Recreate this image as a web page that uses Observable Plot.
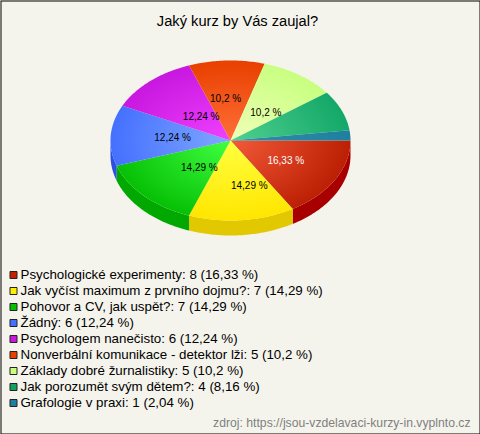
<!DOCTYPE html>
<html>
<head>
<meta charset="utf-8">
<script src="https://cdn.jsdelivr.net/npm/d3@7"></script>
<script src="https://cdn.jsdelivr.net/npm/@observablehq/plot@0.6"></script>
<style>html,body{margin:0;padding:0;background:#f5f4ec}svg{display:block}</style>
</head>
<body>
<div id="chart"></div>
<script>
const chartTitle = "Jaký kurz by Vás zaujal?";
const source = "zdroj: https://jsou-vzdelavaci-kurzy-in.vyplnto.cz";
const courses = ["Psychologické experimenty","Jak vyčíst maximum z prvního dojmu?","Pohovor a CV, jak uspět?","Žádný","Psychologem nanečisto","Nonverbální komunikace - detektor lži","Základy dobré žurnalistiky","Jak porozumět svým dětem?","Grafologie v praxi"];
const counts = [8,7,7,6,6,5,5,4,1];
const percents = ["16,33","14,29","14,29","12,24","12,24","10,2","10,2","8,16","2,04"];
const edgeColors = ["#bc2004","#ffe600","#06c006","#4470ff","#c818e0","#e84000","#c8ff80","#14a868","#1f7f9f"];
const centerColors = ["#f25a38","#ffff40","#40ff40","#80a8ff","#f040ff","#ff7038","#f0ffb8","#50d090","#3090a8"];
const rimColors = ["#a80000","#e2c800","#00a800","#2c50e0"];
const swatchColors = ["#c42000","#ffee00","#06c006","#4470ff","#c818d8","#e84000","#c8ff80","#14a060","#1f7f9f"];
const labelNudgeX = [3,13,12,2,11,-3,1,0,0];
const labelNudgeY = [1,5,-1,0,6,-2,5,0,0];

const W = 480, H = 434, cx = 230, cy = 140, rx = 120, ry = 80, depth = 15;
const total = d3.sum(counts);
const cum = d3.cumsum(counts);
const ang = v => v / total * 2 * Math.PI;
const px = a => cx + rx * Math.cos(a);
const py = a => cy + ry * Math.sin(a);

function arcPts(a0, a1) {
  const n = Math.max(2, Math.ceil((a1 - a0) / 0.015));
  return d3.range(n + 1).map(i => a0 + (a1 - a0) * i / n);
}
const slices = counts.map((c, i) => {
  const a0 = ang(cum[i] - c), a1 = ang(cum[i]);
  return [{x: cx, y: cy}, ...arcPts(a0, a1).map(a => ({x: px(a), y: py(a)}))];
});
const rims = rimColors.map((col, i) => {
  const a0 = ang(cum[i] - counts[i]), a1 = Math.min(ang(cum[i]), Math.PI);
  const top = arcPts(a0, a1).map(a => ({x: px(a), y: py(a)}));
  const bot = top.map(p => ({x: p.x, y: p.y + depth})).reverse();
  return [...top, ...bot];
});
const labels = counts.map((c, i) => {
  const m = ang(cum[i] - c / 2);
  return {t: percents[i] + " %", x: cx + .5 * rx * Math.cos(m) + labelNudgeX[i], y: cy + .5 * ry * Math.sin(m) + labelNudgeY[i], i};
}).filter(d => d.i < 7);
const legendRows = courses.map((n, i) => ({
  t: `${n}: ${counts[i]} (${percents[i]} %)`, i, y: 274 + i * 16
}));

function gradientDefs() {
  const ns = "http://www.w3.org/2000/svg";
  const defs = document.createElementNS(ns, "defs");
  edgeColors.forEach((c, i) => {
    const g = document.createElementNS(ns, "radialGradient");
    g.setAttribute("id", "g" + i);
    g.setAttribute("gradientUnits", "userSpaceOnUse");
    g.setAttribute("cx", cx); g.setAttribute("cy", cy); g.setAttribute("r", rx);
    g.setAttribute("gradientTransform", `translate(${cx} ${cy}) scale(1 ${ry / rx}) translate(${-cx} ${-cy})`);
    [[0, centerColors[i]], [1, c]].forEach(([o, col]) => {
      const s = document.createElementNS(ns, "stop");
      s.setAttribute("offset", o); s.setAttribute("stop-color", col);
      g.appendChild(s);
    });
    defs.appendChild(g);
  });
  return defs;
}

const chart = Plot.plot({
  width: W, height: H,
  margin: 0,
  x: {domain: [0, W], range: [0, W], axis: null},
  y: {domain: [0, H], range: [0, H], axis: null},
  style: {background: "#f5f4ec", fontFamily: "'Liberation Sans', Arial, sans-serif"},
  marks: [
    Plot.frame({stroke: "#000", fill: "#f5f4ec", inset: 0.5}),
    gradientDefs,
    ...rims.map((r, i) => Plot.line(r, {x: "x", y: "y", fill: rimColors[i], stroke: "none"})),
    ...slices.map((s, i) => Plot.line(s, {x: "x", y: "y", fill: `url(#g${i})`, stroke: "none"})),
    Plot.text(labels, {x: "x", y: "y", text: "t", fontSize: 10, fill: d => d.i === 0 ? "#fff" : "#000"}),
    Plot.text([chartTitle], {x: () => 237, y: () => 21, text: d => d, fontSize: 14.67, fill: "#000"}),
    Plot.dot(legendRows, {x: () => 13, y: "y", dy: 0.5, symbol: "square", r: 3.95, fill: d => swatchColors[d.i], stroke: "#222", strokeWidth: 1, strokeLinejoin: "miter"}),
    Plot.text(legendRows, {x: () => 20, y: "y", text: "t", textAnchor: "start", fontSize: 13.33, fill: "#000"}),
    Plot.text([source], {x: () => 470, y: () => 423, text: d => d, textAnchor: "end", fontSize: 12.2, fill: "#808080"})
  ]
});
document.getElementById("chart").appendChild(chart);
</script>
</body>
</html>
